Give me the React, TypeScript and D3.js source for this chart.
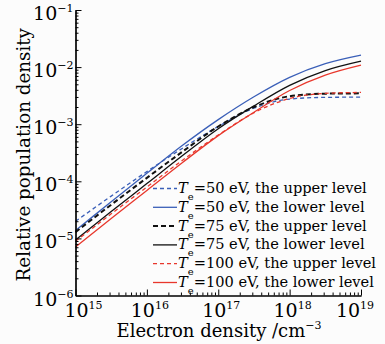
import { useEffect, useRef } from 'react'
import * as d3 from 'd3'

// log10 of electron density (cm^-3)
const logDensity = [15, 15.5, 16, 16.5, 17, 17.5, 18, 18.5, 19]

// log10 of relative population density
const te50Upper = [-4.70, -4.26, -3.83, -3.42, -3.04, -2.72, -2.56, -2.53, -2.526]
const te50Lower = [-4.86, -4.36, -3.86, -3.37, -2.92, -2.52, -2.18, -1.94, -1.79]
const te75Upper = [-4.89, -4.41, -3.94, -3.48, -3.04, -2.70, -2.51, -2.465, -2.46]
const te75Lower = [-5.03, -4.53, -4.04, -3.55, -3.08, -2.68, -2.32, -2.06, -1.895]
const te100Upper = [-5.05, -4.57, -4.10, -3.63, -3.19, -2.80, -2.55, -2.46, -2.444]
const te100Lower = [-5.15, -4.65, -4.16, -3.67, -3.20, -2.79, -2.41, -2.14, -1.965]

const legendLabels = [
  '=50 eV, the upper level',
  '=50 eV, the lower level',
  '=75 eV, the upper level',
  '=75 eV, the lower level',
  '=100 eV, the upper level',
  '=100 eV, the lower level',
]

const xTickExponents = [15, 16, 17, 18, 19]
const yTickExponents = [-6, -5, -4, -3, -2, -1]

const BLUE = '#3a5fb8'
const RED = '#e8372c'
const BLACK = '#111111'
const FONT = '"DejaVu Serif", serif'

interface Series {
  values: number[]
  color: string
  dash: string | null
  width: number
}

const series: Series[] = [
  { values: te50Upper, color: BLUE, dash: '4,3', width: 1.3 },
  { values: te50Lower, color: BLUE, dash: null, width: 1.3 },
  { values: te75Upper, color: BLACK, dash: '5,3', width: 2 },
  { values: te75Lower, color: BLACK, dash: null, width: 1.3 },
  { values: te100Upper, color: RED, dash: '4,3', width: 1.3 },
  { values: te100Lower, color: RED, dash: null, width: 1.3 },
]

export default function App() {
  const ref = useRef<SVGSVGElement>(null)

  useEffect(() => {
    if (!ref.current) return
    const svg = d3.select(ref.current)
    svg.selectAll('*').remove()

    const left = 75.5
    const right = 361
    const top = 10
    const bottom = 295.5

    const x = d3.scaleLog().domain([1e15, 1e19]).range([left, right])
    const y = d3.scaleLog().domain([1e-6, 1e-1]).range([bottom, top])

    const line = d3.line<number>()
      .x((_, i) => x(10 ** logDensity[i]))
      .y(d => y(10 ** d))
      .curve(d3.curveMonotoneX)

    // Curves
    series.forEach(s => {
      svg.append('path')
        .datum(s.values)
        .attr('fill', 'none')
        .attr('stroke', s.color)
        .attr('stroke-width', s.width)
        .attr('stroke-dasharray', s.dash)
        .attr('d', line)
    })

    // Minor tick values (2..9 per decade)
    const minorX: number[] = []
    for (let e = 15; e < 19; e++) for (let m = 2; m <= 9; m++) minorX.push(m * 10 ** e)
    const minorY: number[] = []
    for (let e = -6; e < -1; e++) for (let m = 2; m <= 9; m++) minorY.push(m * 10 ** e)

    const styleAxis = (g: d3.Selection<SVGGElement, unknown, null, undefined>) => {
      g.select('.domain').attr('stroke', '#000').attr('stroke-width', 1.2)
      g.selectAll('.tick line').attr('stroke', '#000')
      g.selectAll('.tick text').remove()
    }

    // X axis (inward ticks)
    svg.append('g')
      .attr('transform', `translate(0,${bottom})`)
      .call(d3.axisBottom(x).tickValues(minorX).tickSize(-3).tickSizeOuter(0))
      .call(styleAxis)
    svg.append('g')
      .attr('transform', `translate(0,${bottom})`)
      .call(d3.axisBottom(x).tickValues(xTickExponents.map(e => 10 ** e)).tickSize(-6).tickSizeOuter(0))
      .call(styleAxis)

    // Y axis (inward ticks)
    svg.append('g')
      .attr('transform', `translate(${left},0)`)
      .call(d3.axisLeft(y).tickValues(minorY).tickSize(-3).tickSizeOuter(0))
      .call(styleAxis)
    svg.append('g')
      .attr('transform', `translate(${left},0)`)
      .call(d3.axisLeft(y).tickValues(yTickExponents.map(e => 10 ** e)).tickSize(-6).tickSizeOuter(0))
      .call(styleAxis)

    // X tick labels
    xTickExponents.forEach((e, i) => {
      const shift = i === 0 ? 8 : i === xTickExponents.length - 1 ? -6 : 3
      const t = svg.append('text')
        .attr('x', x(10 ** e) + shift)
        .attr('y', bottom + 21)
        .attr('text-anchor', 'middle')
        .attr('font-family', FONT)
        .attr('font-size', 19)
        .attr('fill', '#000')
        .text('10')
      t.append('tspan')
        .attr('dy', -8)
        .attr('font-size', 11)
        .text(String(e))
    })

    // Y tick labels
    yTickExponents.forEach(e => {
      const t = svg.append('text')
        .attr('x', left - 2)
        .attr('y', y(10 ** e) + 10)
        .attr('text-anchor', 'end')
        .attr('font-family', FONT)
        .attr('font-size', 19)
        .attr('fill', '#000')
        .text('10')
      t.append('tspan')
        .attr('dy', -8)
        .attr('font-size', 11)
        .text('\u2212' + Math.abs(e))
    })

    // Axis titles
    const xt = svg.append('text')
      .attr('x', 219)
      .attr('y', 337)
      .attr('text-anchor', 'middle')
      .attr('font-family', FONT)
      .attr('font-size', 18)
      .attr('fill', '#000')
      .text('Electron density /cm')
    xt.append('tspan').attr('dy', -8).attr('font-size', 11).text('\u22123')

    svg.append('text')
      .attr('transform', `translate(30,${(top + bottom) / 2 + 2}) rotate(-90)`)
      .attr('text-anchor', 'middle')
      .attr('font-family', FONT)
      .attr('font-size', 18.3)
      .attr('fill', '#000')
      .text('Relative population density')

    // Legend
    const legend = svg.append('g').attr('transform', 'translate(153,193)')
    series.forEach((s, i) => {
      const row = legend.append('g').attr('transform', `translate(0,${i * 18.8})`)
      row.append('line')
        .attr('x1', 0).attr('x2', 24)
        .attr('y1', -4.5).attr('y2', -4.5)
        .attr('stroke', s.color)
        .attr('stroke-width', s.width)
        .attr('stroke-dasharray', s.dash)
      const t = row.append('text')
        .attr('x', 25)
        .attr('y', 0)
        .attr('font-family', FONT)
        .attr('font-size', 14.6)
        .attr('fill', '#000')
      t.append('tspan').attr('font-style', 'italic').text('T')
      t.append('tspan').attr('dy', 7).attr('font-size', 10).text('e')
      t.append('tspan').attr('dy', -7).text(legendLabels[i])
    })
  }, [])

  return (
    <svg
      ref={ref}
      width={385}
      height={344}
      style={{ position: 'absolute', left: 0, top: 0, background: '#fcfcfc' }}
    />
  )
}
